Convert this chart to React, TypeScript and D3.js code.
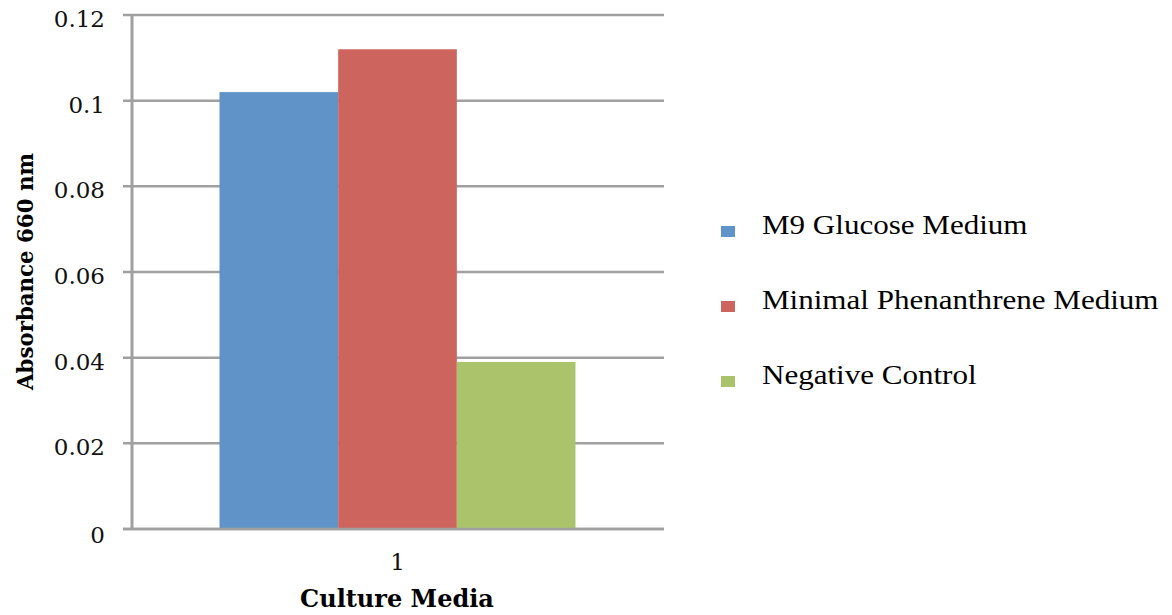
import React from 'react';
import * as d3 from 'd3';

// Absorbance at 660 nm per culture medium
const categories = ['1'];
const seriesNames = ['M9 Glucose Medium', 'Minimal Phenanthrene Medium', 'Negative Control'];
const seriesValues = [[0.102], [0.112], [0.039]];
const seriesColors = ['#6094c9', '#cd645e', '#abc46c'];
const yTicks = [0, 0.02, 0.04, 0.06, 0.08, 0.1, 0.12];
const yTickLabels = ['0', '0.02', '0.04', '0.06', '0.08', '0.1', '0.12'];

const W = 1172;
const H = 615;
const margin = { left: 132, right: 509, top: 15, bottom: 86 };
const gridColor = '#a0a0a0';
const tickFont = '"DejaVu Serif", serif';
const legendFont = '"Liberation Serif", "Times New Roman", serif';

export default function App() {
  const x0 = margin.left;
  const x1 = W - margin.right;
  const y0 = H - margin.bottom;
  const y1 = margin.top;

  const y = d3.scaleLinear().domain([0, 0.12]).range([y0, y1]);
  const x = d3.scaleBand().domain(categories).range([x0, x1]).paddingInner(0).paddingOuter(0.2458);
  const xs = d3.scaleBand().domain(seriesNames).range([0, x.bandwidth()]).padding(0);

  const legendY = d3.scalePoint().domain(seriesNames).range([234, 384]);

  return (
    <svg width={W} height={H} style={{ position: 'absolute', left: 0, top: 0, background: '#fff' }}>
      {/* horizontal gridlines with outward ticks */}
      {yTicks.map((t) => (
        <line key={`g${t}`} x1={x0 - 9} x2={x1 + 1} y1={y(t)} y2={y(t)} stroke={gridColor} strokeWidth={2.5} />
      ))}

      {/* bars */}
      {categories.map((c, ci) =>
        seriesNames.map((s, si) => (
          <rect
            key={`${c}-${s}`}
            x={(x(c) as number) + (xs(s) as number)}
            y={y(seriesValues[si][ci])}
            width={xs.bandwidth()}
            height={y0 - y(seriesValues[si][ci])}
            fill={seriesColors[si]}
          />
        ))
      )}

      {/* axes */}
      <line x1={x0 - 9} x2={x1 + 1} y1={y0} y2={y0} stroke={gridColor} strokeWidth={2.5} />
      <line x1={x0} x2={x0} y1={y1} y2={y0 + 1} stroke={gridColor} strokeWidth={3} />

      {/* y tick labels */}
      {yTicks.map((t, i) => (
        <text
          key={`t${t}`}
          x={105}
          y={y(t) + (t === 0 ? 6 : 4)}
          textAnchor="end"
          dominantBaseline="central"
          fontFamily={tickFont}
          fontSize={23}
          fill="#111"
        >
          {yTickLabels[i]}
        </text>
      ))}

      {/* category label */}
      {categories.map((c) => (
        <text
          key={`c${c}`}
          x={(x(c) as number) + x.bandwidth() / 2}
          y={570}
          textAnchor="middle"
          fontFamily={tickFont}
          fontSize={23}
          fill="#111"
        >
          {c}
        </text>
      ))}

      {/* axis titles */}
      <text
        x={397}
        y={607}
        textAnchor="middle"
        fontFamily={tickFont}
        fontWeight="bold"
        fontSize={24}
        fill="#000"
      >
        Culture Media
      </text>
      <text
        transform={`translate(33, 271.5) rotate(-90)`}
        textAnchor="middle"
        fontFamily={tickFont}
        fontWeight="bold"
        fontSize={22}
        textLength={237}
        lengthAdjust="spacingAndGlyphs"
        fill="#000"
      >
        Absorbance 660 nm
      </text>

      {/* legend */}
      {seriesNames.map((s, i) => {
        const by = legendY(s) as number;
        return (
          <g key={`l${s}`}>
            <rect x={721} y={by - 8} width={14} height={11} fill={seriesColors[i]} />
            <text
              transform={`translate(762, ${by}) scale(1.15, 1)`}
              fontFamily={legendFont}
              fontSize={27}
              fill="#000"
            >
              {s}
            </text>
          </g>
        );
      })}
    </svg>
  );
}
